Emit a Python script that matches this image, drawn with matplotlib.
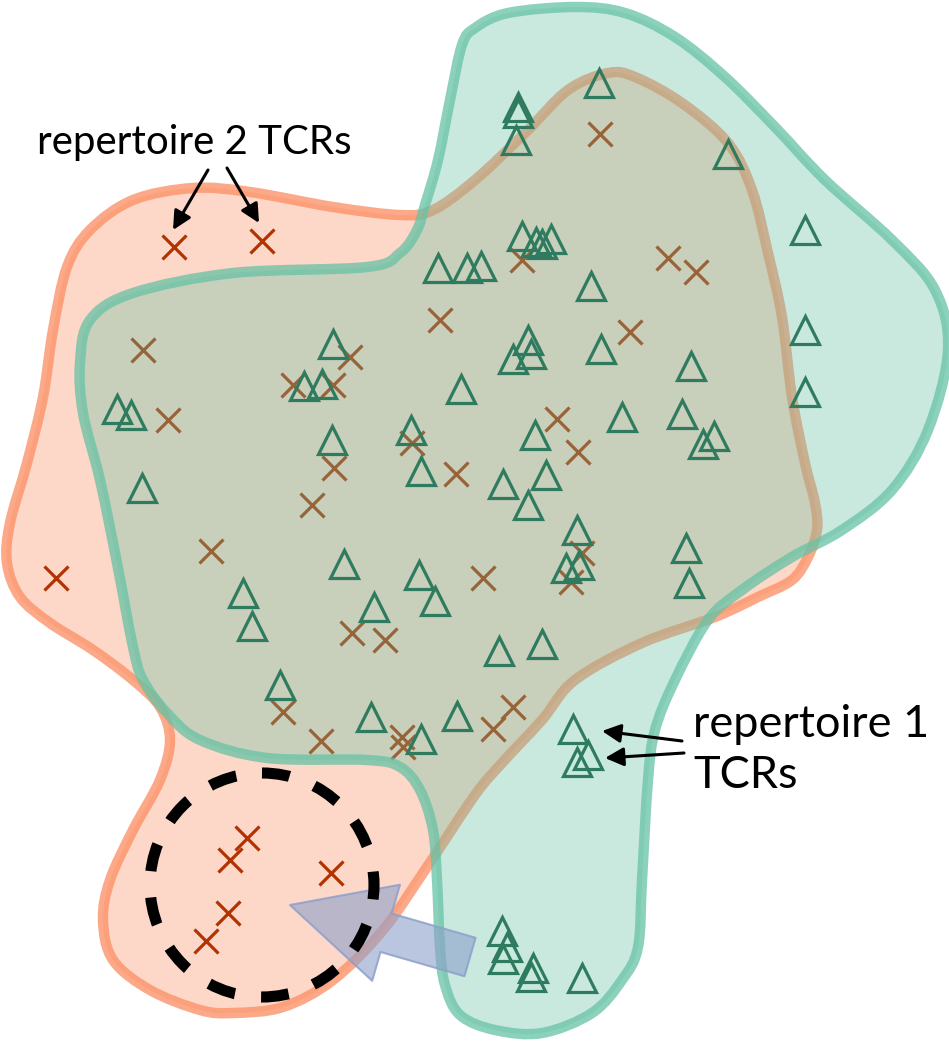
import numpy as np
import matplotlib
matplotlib.use("Agg")
import matplotlib.pyplot as plt
from matplotlib.path import Path
from matplotlib.patches import PathPatch, Circle, FancyArrow

plt.rcParams['lines.scale_dashes'] = False
plt.rcParams['font.family'] = ['Lato', 'DejaVu Sans']

# outline of repertoire 2 (salmon) and repertoire 1 (teal), in image pixels
rep2_x = [67, 90, 133, 193, 250, 333, 400, 433, 475, 525, 568, 608, 635, 682, 728, 752, 768, 782,
          792, 805, 815, 817, 808, 792, 758, 715, 642, 575, 542, 502, 475, 427, 383, 333, 283, 233,
          200, 150, 113, 103, 110, 133, 160, 170, 160, 133, 93, 50, 20, 7, 10, 27, 43, 53]
rep2_y = [267, 230, 200, 188, 192, 207, 215, 210, 180, 133, 90, 73, 77, 103, 143, 190, 253, 317,
          397, 463, 503, 530, 557, 580, 597, 617, 643, 680, 720, 763, 795, 867, 930, 980, 1007, 1013,
          1010, 990, 960, 920, 880, 830, 780, 740, 707, 680, 650, 623, 597, 563, 523, 463, 397, 330]

rep1_x = [462, 475, 508, 575, 625, 675, 725, 775, 825, 892, 935, 948, 928, 892, 842, 792, 742, 708,
          675, 655, 648, 642, 638, 622, 592, 542, 495, 460, 445, 440, 437, 433, 420, 400, 367, 267,
          200, 167, 143, 133, 117, 100, 83, 80, 90, 133, 233, 367, 400, 417, 425, 438, 450]
rep1_y = [45, 28, 13, 7, 13, 37, 77, 127, 180, 240, 290, 350, 430, 490, 530, 557, 590, 620,
          680, 730, 780, 880, 947, 980, 1013, 1033, 1030, 1015, 985, 947, 880, 830, 790, 767, 760, 758,
          740, 713, 680, 647, 563, 480, 413, 363, 320, 293, 273, 267, 253, 230, 205, 160, 100]

# repertoire 2 TCRs (crosses)
cross_x = [174, 262, 600, 440, 668, 696, 522, 630, 143, 350, 293, 333, 168, 412, 334, 456, 312,
           557, 578, 211, 56, 483, 582, 571, 352, 385, 283, 321, 402, 403, 513, 493,
           247, 230, 331, 228, 206]
cross_y = [247, 241, 134, 320, 258, 272, 260, 332, 350, 357, 385, 385, 420, 443, 468, 474, 505,
           419, 452, 551, 578, 578, 553, 582, 633, 640, 712, 741, 737, 747, 707, 729,
           838, 860, 873, 913, 941]

# repertoire 1 TCRs (triangles)
tri_x = [599, 518, 518, 516, 728, 805, 522, 536, 542, 551, 438, 467, 481, 591, 805, 333, 528, 531,
         513, 601, 691, 304, 322, 461, 805, 117, 131, 622, 682, 411, 535, 332, 714, 703, 421, 546,
         503, 142, 528, 577, 686, 344, 579, 566, 419, 689, 243, 435, 374, 252, 542, 499, 280, 371,
         457, 421, 573, 588, 577, 502, 507, 503, 533, 531, 582]
tri_y = [83, 107, 113, 140, 154, 230, 236, 242, 244, 239, 268, 268, 266, 286, 330, 344, 340, 354,
         359, 349, 366, 386, 384, 389, 392, 409, 415, 417, 414, 430, 435, 440, 436, 444, 471, 475,
         484, 488, 505, 530, 548, 564, 565, 568, 575, 583, 593, 601, 607, 626, 644, 651, 685, 717,
         716, 739, 729, 755, 762, 931, 947, 959, 968, 977, 978]

orange = (252 / 255, 141 / 255, 98 / 255)
green = (102 / 255, 194 / 255, 165 / 255)
blue = (141 / 255, 160 / 255, 203 / 255)


def blob(xs, ys):
    # closed Catmull-Rom curve through the outline points, as cubic Bezier segments
    p = np.column_stack([xs, ys]).astype(float)
    n = len(p)
    verts = [p[0]]
    codes = [Path.MOVETO]
    for i in range(n):
        p0, p1, p2, p3 = p[i - 1], p[i], p[(i + 1) % n], p[(i + 2) % n]
        verts += [p1 + (p2 - p0) / 6, p2 - (p3 - p1) / 6, p2]
        codes += [Path.CURVE4] * 3
    verts.append(p[0])
    codes.append(Path.CLOSEPOLY)
    return Path(verts, codes)


fig = plt.figure(figsize=(9.49, 10.45), dpi=100)
ax = fig.add_axes([0, 0, 1, 1])
ax.set_xlim(0, 949)
ax.set_ylim(1045, 0)
ax.axis('off')

ax.add_patch(PathPatch(blob(rep2_x, rep2_y), facecolor=orange + (0.35,), edgecolor=orange + (0.75,),
                       lw=7.5, joinstyle='round', zorder=1))
ax.plot(cross_x, cross_y, 'x', ms=17, mew=2.3, color='#b23300', zorder=2)
ax.add_patch(PathPatch(blob(rep1_x, rep1_y), facecolor=green + (0.35,), edgecolor=green + (0.75,),
                       lw=7.5, joinstyle='round', zorder=3))
ax.plot(tri_x, tri_y, '^', ms=20, mew=2.3, mfc='none', mec='#2e7b5f', zorder=4)

ax.add_patch(FancyArrow(470, 957, -180, -52, width=40, head_width=100, head_length=100,
                        length_includes_head=True, facecolor=blue + (0.6,), edgecolor=blue + (0.85,),
                        lw=1.5, joinstyle='round', zorder=5))
ax.add_patch(Circle((262, 885), 112, fill=False, edgecolor='black', lw=8,
                    linestyle=(0, (20, 19)), zorder=6))

ax.text(37, 154, 'repertoire 2 TCRs', fontsize=29, va='baseline', ha='left', zorder=7)
ax.text(693, 737, 'repertoire 1', fontsize=32.5, va='baseline', ha='left', zorder=7)
ax.text(693, 788, 'TCRs', fontsize=32.5, va='baseline', ha='left', zorder=7)

arrow_kw = dict(arrowstyle='-|>', color='black', lw=2.2, mutation_scale=28, shrinkA=0, shrinkB=0)
ax.annotate('', xy=(173, 230), xytext=(208, 170), arrowprops=arrow_kw, zorder=7)
ax.annotate('', xy=(259, 223), xytext=(227, 168), arrowprops=arrow_kw, zorder=7)
ax.annotate('', xy=(602, 731), xytext=(682, 741), arrowprops=arrow_kw, zorder=7)
ax.annotate('', xy=(605, 758), xytext=(684, 753), arrowprops=arrow_kw, zorder=7)

fig.savefig('out.png', dpi=100)
